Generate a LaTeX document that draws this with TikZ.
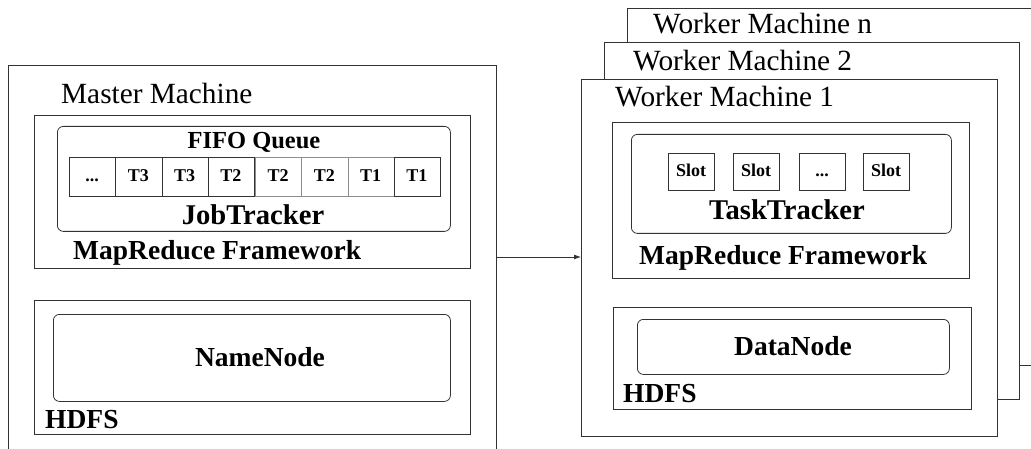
\documentclass[tikz,border=0pt]{standalone}
\usepackage{fontspec}
\setmainfont{Liberation Serif}
\usetikzlibrary{arrows.meta}
\tikzset{
  frame/.style={draw=black!80, line width=0.8pt, fill=white, inner sep=0pt, anchor=north west},
  rbox/.style={frame, rounded corners=6pt},
  cell/.style={frame, minimum width=46.25pt, minimum height=39pt},
  lcell/.style={cell, draw=black!45},
  slot/.style={frame, minimum width=46pt, minimum height=37pt},
  lbl/.style={inner sep=0pt, font=\fontsize{29.3}{32}\selectfont},
  blbl/.style={inner sep=0pt, font=\fontsize{27.5}{30}\selectfont\bfseries},
  tlbl/.style={inner sep=0pt, font=\fontsize{28.6}{31}\selectfont\bfseries},
  qlbl/.style={inner sep=0pt, font=\fontsize{24.5}{27}\selectfont\bfseries},
  slbl/.style={inner sep=0pt, font=\fontsize{18}{20}\selectfont\bfseries},
  conn/.style={draw=black!80, line width=0.8pt, -{Latex[length=7pt,width=5pt]}}
}
\begin{document}
\begin{tikzpicture}[x=1pt,y=-1pt]
\useasboundingbox (0,0) rectangle (1031,449);
\clip (0,0) rectangle (1031,449);
% ---------- Master ----------
\node[frame, minimum width=488pt, minimum height=400pt] (master) at (8,65) {};
\node[lbl, anchor=base west] (mlabel) at (61,104) {Master Machine};
\node[frame, minimum width=436pt, minimum height=153pt] (mrf) at (34,115) {};
\node[rbox, minimum width=393pt, minimum height=105pt] (jt) at (57,126) {};
\node[qlbl, anchor=base] (fifo) at (254,149) {FIFO Queue};
% queue cells
\node[lcell] (c5) at (255,157) {};
\node[lcell] (c6) at (301.25,157) {};
\node[lcell] (c7) at (347.5,157) {};
\node[cell] (c1) at (69,157) {};
\node[cell] (c2) at (115.25,157) {};
\node[cell] (c3) at (161.5,157) {};
\node[cell] (c4) at (207.75,157) {};
\node[cell] (c8) at (393.75,157) {};
\node[slbl, anchor=base] (t0) at (92.1,182) {...};
\node[slbl, anchor=base] (t1) at (138.4,182) {T3};
\node[slbl, anchor=base] (t2) at (184.6,182) {T3};
\node[slbl, anchor=base] (t3) at (230.9,182) {T2};
\node[slbl, anchor=base] (t4) at (278.1,182) {T2};
\node[slbl, anchor=base] (t5) at (324.4,182) {T2};
\node[slbl, anchor=base] (t6) at (370.6,182) {T1};
\node[slbl, anchor=base] (t7) at (416.9,182) {T1};
\node[tlbl, anchor=base] (jtl) at (253,225) {JobTracker};
\node[blbl, anchor=base west] (mrfl) at (73,260) {MapReduce Framework};
\node[frame, minimum width=436pt, minimum height=134pt] (hdfs) at (34,300) {};
\node[rbox, minimum width=397pt, minimum height=87pt] (nn) at (53,314) {};
\node[blbl, anchor=base] (nnl) at (260,366) {NameNode};
\node[blbl, anchor=base west] (hdfsl) at (45,428) {HDFS};
% ---------- Workers ----------
\node[frame, minimum width=460pt, minimum height=357pt] (wn) at (627,8) {};
\node[lbl, anchor=base west] (wnl) at (653,34) {Worker Machine n};
\node[frame, minimum width=415pt, minimum height=357pt] (w2) at (604,42) {};
\node[lbl, anchor=base west] (w2l) at (633,71) {Worker Machine 2};
\node[frame, minimum width=416pt, minimum height=357pt] (w1) at (581,79) {};
\node[lbl, anchor=base west] (w1l) at (615,107) {Worker Machine 1};
\node[frame, minimum width=357pt, minimum height=156pt] (wmrf) at (612,122) {};
\node[rbox, minimum width=320pt, minimum height=99pt] (tt) at (631,134) {};
\node[slot] (s1) at (668,153) {};
\node[slot] (s2) at (733,153) {};
\node[slot] (s3) at (799,153) {};
\node[slot] (s4) at (863,153) {};
\node[slbl, anchor=base] (sl1) at (691,177) {Slot};
\node[slbl, anchor=base] (sl2) at (756,177) {Slot};
\node[slbl, anchor=base] (sl3) at (822,177) {...};
\node[slbl, anchor=base] (sl4) at (886,177) {Slot};
\node[tlbl, anchor=base] (ttl) at (787,220) {TaskTracker};
\node[blbl, anchor=base west] (wmrfl) at (639,265) {MapReduce Framework};
\node[frame, minimum width=358pt, minimum height=102pt] (whdfs) at (613,307) {};
\node[rbox, minimum width=312pt, minimum height=55pt] (dn) at (637,319) {};
\node[blbl, anchor=base] (dnl) at (793,355) {DataNode};
\node[blbl, anchor=base west] (whdfsl) at (623,402) {HDFS};
% ---------- connector ----------
\coordinate (ay) at (0,257);
\draw[conn] (master.east |- ay) -- (w1.west |- ay);
\end{tikzpicture}
\end{document}
